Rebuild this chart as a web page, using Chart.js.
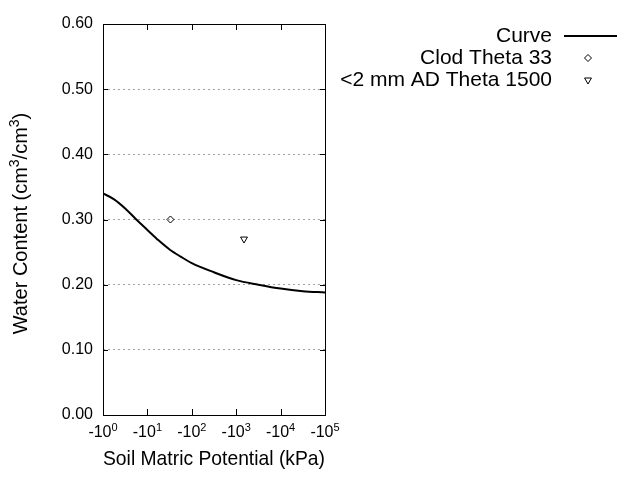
<!DOCTYPE html>
<html>
<head>
    <title>Soil Water Retention</title>
    <style type="text/css">
        body { margin: 0; background: #fff; }
        #chart-container { width: 640px; height: 480px; }
    </style>
    <script type="text/javascript" src="https://cdn.jsdelivr.net/npm/chart.js@4.4.0/dist/chart.umd.min.js"></script>
</head>
<body>
    <div id="chart-container">
        <canvas id="graphCanvas"></canvas>
    </div>

    <script>
        // suction (kPa, magnitude) and water content
        var curveSuction = [1, 1.78, 3.16, 5.62, 10, 17.8, 31.6, 56.2, 100, 316, 1000, 3162, 10000, 31623, 100000];
        var curveTheta = [0.340, 0.331, 0.317, 0.300, 0.284, 0.268, 0.254, 0.243, 0.233, 0.219, 0.207, 0.200, 0.194, 0.190, 0.188];

        var clodSuction = [33];
        var clodTheta = [0.30];

        var adSuction = [1500];
        var adTheta = [0.27];

        var xTickValues = [1, 10, 100, 1000, 10000, 100000];
        var xTickBase = '-10';
        var xTickExp = ['0', '1', '2', '3', '4', '5'];
        var yTickValues = [0, 0.1, 0.2, 0.3, 0.4, 0.5, 0.6];

        function pairs(xs, ys) {
            var out = [];
            for (var i = 0; i < xs.length; i++) {
                out.push({ x: xs[i], y: ys[i] });
            }
            return out;
        }

        var fontFamily = "'Liberation Sans', Arial, sans-serif";

        // draw text pieces with superscripts, centred on x
        function drawRich(ctx, parts, x, y, size) {
            var supSize = Math.round(size * 0.7);
            var total = 0;
            parts.forEach(function (p) {
                ctx.font = (p.sup ? supSize : size) + 'px ' + fontFamily;
                p.w = ctx.measureText(p.t).width;
                total += p.w;
            });
            var cx = x - total / 2;
            ctx.textAlign = 'left';
            ctx.textBaseline = 'alphabetic';
            parts.forEach(function (p) {
                ctx.font = (p.sup ? supSize : size) + 'px ' + fontFamily;
                ctx.fillText(p.t, cx, p.sup ? y - size * 0.4 : y);
                cx += p.w;
            });
        }

        // box round the plot with inward tick marks, x labels and y title
        var framePlugin = {
            id: 'frame',
            afterDraw: function (chart) {
                var ctx = chart.ctx;
                var a = chart.chartArea;
                var xs = chart.scales.x, ys = chart.scales.y;
                ctx.save();
                ctx.strokeStyle = '#000';
                ctx.lineWidth = 1;
                ctx.beginPath();
                xTickValues.forEach(function (v) {
                    var px = Math.round(xs.getPixelForValue(v)) + 0.5;
                    ctx.moveTo(px, a.top); ctx.lineTo(px, a.top + 6);
                    ctx.moveTo(px, a.bottom); ctx.lineTo(px, a.bottom - 6);
                });
                yTickValues.forEach(function (v) {
                    var py = Math.round(ys.getPixelForValue(v)) + 0.5;
                    ctx.moveTo(a.left, py); ctx.lineTo(a.left + 5, py);
                    ctx.moveTo(a.right, py); ctx.lineTo(a.right - 5, py);
                });
                ctx.stroke();
                ctx.strokeRect(Math.round(a.left) + 0.5, Math.round(a.top) + 0.5,
                    Math.round(a.right - a.left), Math.round(a.bottom - a.top));

                ctx.fillStyle = '#000';
                xTickValues.forEach(function (v, i) {
                    drawRich(ctx, [{ t: xTickBase }, { t: xTickExp[i], sup: true }],
                        xs.getPixelForValue(v), a.bottom + 22, 16);
                });

                ctx.translate(27, (a.top + a.bottom) / 2 + 4);
                ctx.rotate(-Math.PI / 2);
                drawRich(ctx, [{ t: 'Water Content (cm' }, { t: '3', sup: true },
                    { t: '/cm' }, { t: '3', sup: true }, { t: ')' }], 0, 0, 20);
                ctx.restore();
            }
        };

        // legend on the right: text right aligned, sample after it
        var legendPlugin = {
            id: 'sideLegend',
            afterDraw: function (chart) {
                var ctx = chart.ctx;
                ctx.save();
                ctx.font = '21px ' + fontFamily;
                ctx.textAlign = 'right';
                ctx.textBaseline = 'middle';
                chart.data.datasets.forEach(function (ds, i) {
                    var y = 36 + i * 22;
                    ctx.fillStyle = '#000';
                    ctx.fillText(ds.label, 552, y);
                    if (ds.showLine) {
                        ctx.strokeStyle = ds.borderColor;
                        ctx.lineWidth = ds.borderWidth;
                        ctx.beginPath();
                        ctx.moveTo(564, y); ctx.lineTo(617, y);
                        ctx.stroke();
                    } else {
                        ctx.fillStyle = 'rgba(0,0,0,0)';
                        ctx.strokeStyle = ds.pointBorderColor;
                        ctx.lineWidth = ds.pointBorderWidth;
                        Chart.helpers.drawPoint(ctx, {
                            pointStyle: ds.pointStyle,
                            rotation: ds.pointRotation || 0,
                            radius: ds.pointRadius,
                            borderWidth: ds.pointBorderWidth
                        }, 588, y);
                    }
                });
                ctx.restore();
            }
        };

        var chartdata = {
            datasets: [
                {
                    label: 'Curve',
                    data: pairs(curveSuction, curveTheta),
                    showLine: true,
                    borderColor: '#000',
                    borderWidth: 2,
                    pointRadius: 0,
                    cubicInterpolationMode: 'monotone',
                    fill: false
                },
                {
                    label: 'Clod Theta 33',
                    data: pairs(clodSuction, clodTheta),
                    showLine: false,
                    pointStyle: 'rectRot',
                    pointRadius: 3.5,
                    pointBorderColor: '#000',
                    pointBackgroundColor: 'rgba(0,0,0,0)',
                    pointBorderWidth: 1
                },
                {
                    label: '<2 mm AD Theta 1500',
                    data: pairs(adSuction, adTheta),
                    showLine: false,
                    pointStyle: 'triangle',
                    pointRotation: 180,
                    pointRadius: 4,
                    pointBorderColor: '#000',
                    pointBackgroundColor: 'rgba(0,0,0,0)',
                    pointBorderWidth: 1
                }
            ]
        };

        var graphTarget = document.getElementById('graphCanvas');

        var scatterChart = new Chart(graphTarget, {
            type: 'scatter',
            data: chartdata,
            plugins: [framePlugin, legendPlugin],
            options: {
                responsive: true,
                maintainAspectRatio: false,
                animation: { duration: 0 },
                layout: { padding: { top: 24, right: 315, bottom: 0, left: 0 } },
                plugins: {
                    legend: { display: false },
                    tooltip: { enabled: false }
                },
                scales: {
                    x: {
                        type: 'logarithmic',
                        min: 1,
                        max: 100000,
                        afterBuildTicks: function (scale) {
                            scale.ticks = xTickValues.map(function (v) { return { value: v }; });
                        },
                        afterFit: function (scale) { scale.height = 65; },
                        grid: { display: false, drawTicks: false },
                        border: { display: false },
                        ticks: { display: false },
                        title: {
                            display: true,
                            text: 'Soil Matric Potential (kPa)',
                            color: '#000',
                            font: { family: fontFamily, size: 21 },
                            padding: { top: 0, bottom: 8 }
                        }
                    },
                    y: {
                        min: 0,
                        max: 0.6,
                        afterBuildTicks: function (scale) {
                            scale.ticks = yTickValues.map(function (v) { return { value: v }; });
                        },
                        afterFit: function (scale) { scale.width = 103; },
                        grid: {
                            drawTicks: false,
                            color: function (c) {
                                var v = c.tick ? c.tick.value : 0;
                                return (v <= 0.001 || v >= 0.599) ? 'rgba(0,0,0,0)' : '#a0a0a0';
                            }
                        },
                        border: { display: false, dash: [2, 3] },
                        ticks: {
                            padding: 10,
                            color: '#000',
                            font: { family: fontFamily, size: 16 },
                            callback: function (value) { return value.toFixed(2); }
                        }
                    }
                }
            }
        });
    </script>
</body>
</html>
